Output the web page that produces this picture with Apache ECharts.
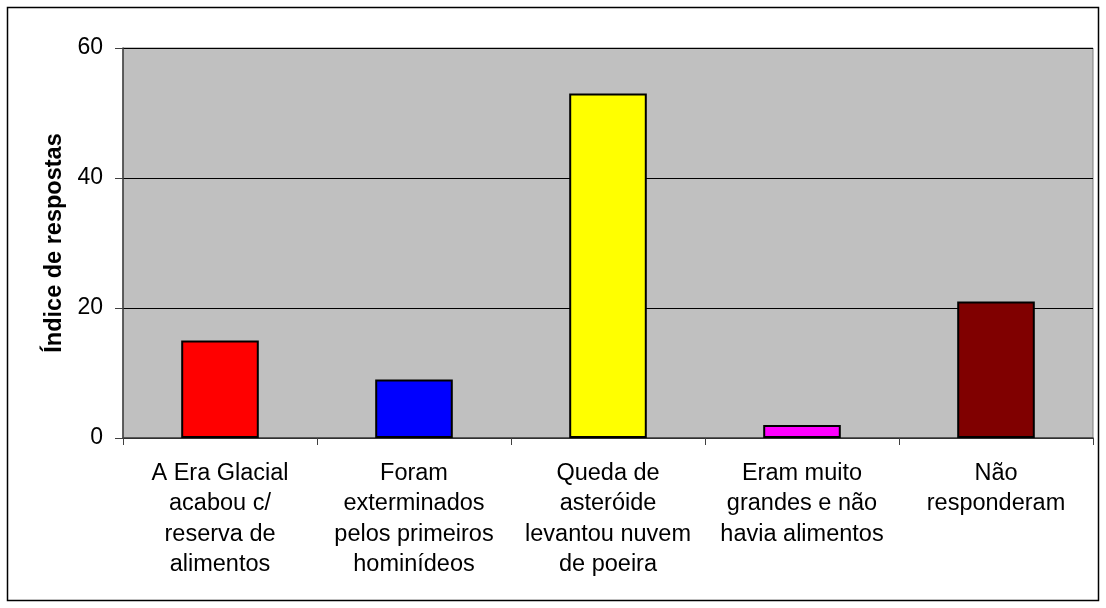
<!DOCTYPE html>
<html>
<head>
<meta charset="utf-8">
<script src="https://cdn.jsdelivr.net/npm/echarts@6/dist/echarts.min.js"></script>
<style>
  html, body {margin: 0; padding: 0; background: #fff;}
  #chart {width: 1106px; height: 608px;}
</style>
</head>
<body>
<div id="chart"></div>
<script>
const categories = [
  'A Era Glacial\nacabou c/\nreserva de\nalimentos',
  'Foram\nexterminados\npelos primeiros\nhominídeos',
  'Queda de\nasteróide\nlevantou nuvem\nde poeira',
  'Eram muito\ngrandes e não\nhavia alimentos',
  'Não\nresponderam'
];
const values = [15, 9, 53, 2, 21];
const barColors = ['#FF0000', '#0000FF', '#FFFF00', '#FF00FF', '#800000'];
const yTicks = [0, 20, 40, 60];

const chart = echarts.init(document.getElementById('chart'));
chart.setOption({
  animation: false,
  textStyle: {fontFamily: 'Liberation Sans, Arial, sans-serif'},
  graphic: [{
    type: 'rect',
    shape: {x: 7.5, y: 7.5, width: 1091, height: 593},
    style: {fill: 'none', stroke: '#000', lineWidth: 1.5}
  }],
  grid: {
    left: 123, top: 48, right: 13, bottom: 170,
    show: true, backgroundColor: '#C0C0C0',
    borderColor: '#808080', borderWidth: 1
  },
  xAxis: {
    type: 'category',
    data: categories,
    axisLine: {lineStyle: {color: '#404040', width: 1.5}},
    axisTick: {show: true, length: 7, lineStyle: {color: '#404040'}},
    axisLabel: {
      color: '#000', fontSize: 23.5, lineHeight: 30.5, margin: 20, interval: 0
    }
  },
  yAxis: {
    type: 'value',
    min: 0, max: yTicks[yTicks.length - 1], interval: 20,
    name: 'Índice de respostas',
    nameLocation: 'middle',
    nameGap: 54,
    nameTextStyle: {color: '#000', fontSize: 23.5, fontWeight: 'bold'},
    axisLine: {show: true, lineStyle: {color: '#404040', width: 1.5}},
    axisTick: {show: true, length: 8, lineStyle: {color: '#404040'}},
    axisLabel: {color: '#000', fontSize: 23, margin: 20},
    splitLine: {lineStyle: {color: '#000', width: 1}}
  },
  series: [{
    type: 'bar',
    barWidth: '40%',
    data: values.map((v, i) => ({
      value: v,
      itemStyle: {color: barColors[i]}
    })),
    itemStyle: {borderColor: '#000', borderWidth: 2}
  }]
});
</script>
</body>
</html>
